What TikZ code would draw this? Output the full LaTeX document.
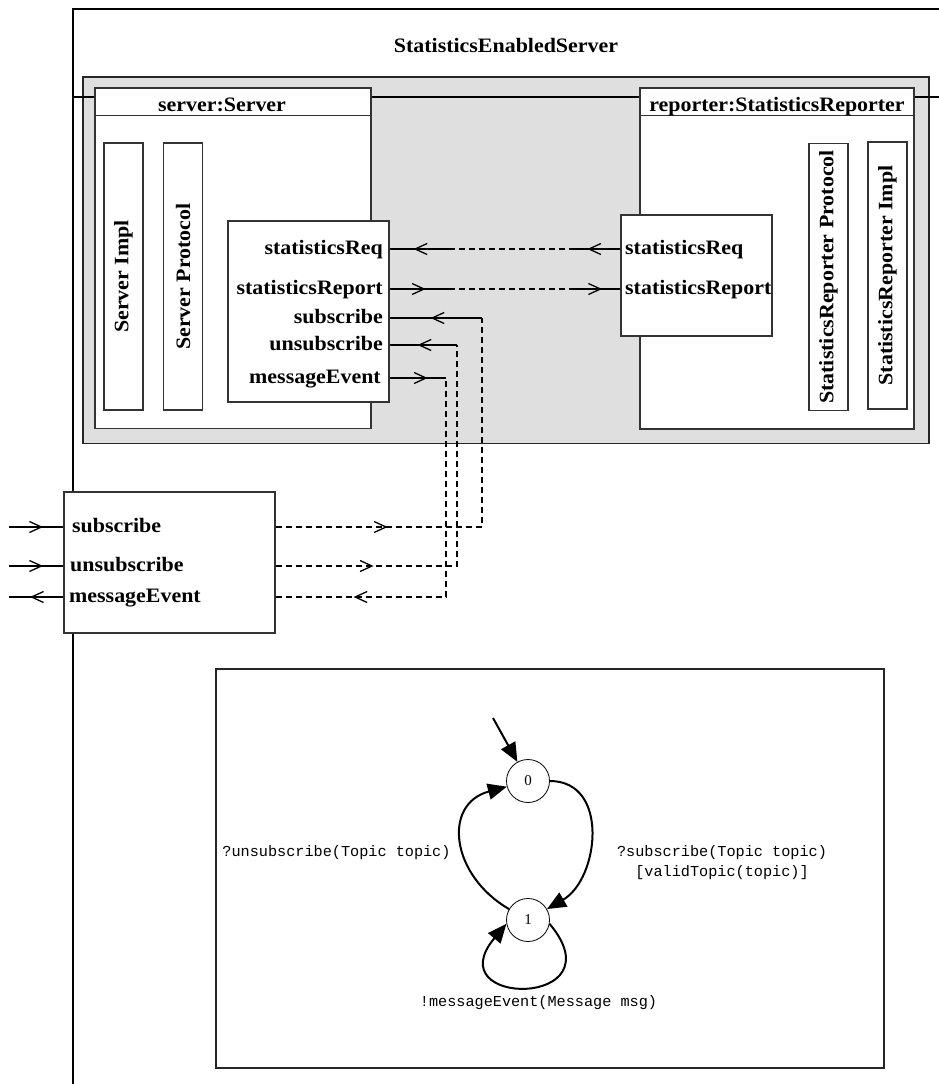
\documentclass[tikz,border=0pt]{standalone}
\usepackage{fontspec}
\setmainfont{Liberation Serif}
\newfontfamily\portfamily[FakeStretch=1.07]{Liberation Serif}
\newfontfamily\codefamily{Liberation Mono}
\usetikzlibrary{positioning}
\usetikzlibrary{arrows.meta}
\usetikzlibrary{decorations.markings}

\newcommand{\portfont}{\portfamily\bfseries\fontsize{20.5}{23}\selectfont}
\newcommand{\codefont}{\codefamily\fontsize{15.2}{20}\selectfont}

\begin{document}
\begin{tikzpicture}[x=1pt,y=1pt,
  >={Straight Barb[length=12pt,width=11pt]},
  box/.style={draw=black!80,line width=1.2pt,fill=white,inner sep=0pt},
  vbox/.style={box,rotate=90,minimum width=267pt,minimum height=39pt,font=\portfont},
  portlbl/.style={font=\portfont,inner sep=0pt,text height=14pt,text depth=4pt},
  wire/.style={line width=1.3pt},
  dashwire/.style={line width=1.3pt,dash pattern=on 6pt off 4pt},
  fwd/.style={postaction={decorate},decoration={markings,mark=at position #1 with {\arrow{>}}}},
  bwd/.style={postaction={decorate},decoration={markings,mark=at position #1 with {\arrowreversed{>}}}},
  state/.style={draw,circle,minimum size=43pt,inner sep=0pt,line width=0.8pt,font=\fontsize{15}{18}\selectfont},
  trans/.style={line width=2pt,-{Triangle[length=19pt,width=16pt]}},
  code/.style={font=\codefont,inner sep=0pt,align=center}]

\useasboundingbox (0,0) rectangle (939,-1084);

% outer frame
\draw[line width=1.5pt] (939,-9) -- (73,-9) -- (73,-1084);
\node[font=\portfont] (sysTitle) at (506,-45) {StatisticsEnabledServer};

\node[box,draw=black!85,line width=1.5pt,fill=gray!25,minimum width=846pt,minimum height=366.5pt] (encl) at (506,-260.25) {};
\draw[line width=1.2pt] (72,-97) -- (939,-97);

% server
\node[box,minimum width=276pt,minimum height=340.5pt] (srv) at (233,-258.25) {};
\draw[line width=1.2pt,draw=black!80] ([yshift=-28pt]srv.north west) -- ([yshift=-28pt]srv.north east);
\node[font=\portfont,anchor=base] (srvTitle) at (222,-111) {server:Server};
\node[vbox] (srvImpl) at (123.5,-276.5) {Server Impl};
\node[vbox] (srvProto) at (183,-276.5) {Server Protocol};

\node[box,minimum width=161pt,minimum height=181pt] (srvPorts) at (308.5,-311.5) {};
\node[portlbl,anchor=east] (sReq) at (383,-249) {statisticsReq};
\node[portlbl,anchor=east] (sRep) at (383,-289) {statisticsReport};
\node[portlbl,anchor=east] (sSub) at (383,-318) {subscribe};
\node[portlbl,anchor=east] (sUnsub) at (383,-345) {unsubscribe};
\node[portlbl,anchor=east] (sMsg) at (381,-378) {messageEvent};

% reporter
\node[box,minimum width=274pt,minimum height=341pt] (rep) at (777,-258.5) {};
\draw[line width=1.2pt,draw=black!80] ([yshift=-28pt]rep.north west) -- ([yshift=-28pt]rep.north east);
\node[font=\portfont,anchor=base] (repTitle) at (777,-111) {reporter:StatisticsReporter};
\node[vbox] (repProto) at (828.5,-277) {StatisticsReporter Protocol};
\node[vbox] (repImpl) at (887.5,-275.5) {StatisticsReporter Impl};

\node[box,minimum width=151pt,minimum height=121pt] (rPorts) at (696.5,-275.5) {};
\node[portlbl,anchor=west] (rReq) at (625,-249) {statisticsReq};
\node[portlbl,anchor=west] (rRep) at (625,-289) {statisticsReport};

% environment ports
\node[box,minimum width=211pt,minimum height=141pt] (envPorts) at (169.5,-562.5) {};
\node[portlbl,anchor=west] (eSub) at (72,-527) {subscribe};
\node[portlbl,anchor=west] (eUnsub) at (70,-566) {unsubscribe};
\node[portlbl,anchor=west] (eMsg) at (69,-597) {messageEvent};

% statisticsReq
\coordinate (reqL) at (449,-249);
\coordinate (reqR) at (570,-249);
\draw[wire,bwd=24pt] (srvPorts.east |- sReq) -- (reqL);
\draw[dashwire] (reqL) -- (reqR);
\draw[wire,fwd=33pt] (rPorts.west |- rReq) -- (reqR);

% statisticsReport
\coordinate (repL) at (449,-289);
\coordinate (repR) at (570,-289);
\draw[wire,fwd=36pt] (srvPorts.east |- sRep) -- (repL);
\draw[dashwire] (repL) -- (repR);
\draw[wire,fwd=32pt] (repR) -- (rPorts.west |- rRep);

% subscribe
\coordinate (subTurn) at (482,-318);
\draw[wire,bwd=41pt] (srvPorts.east |- sSub) -- (subTurn);
\draw[dashwire,fwd=112pt] (envPorts.east |- eSub) -| (subTurn);

% unsubscribe
\coordinate (unsubTurn) at (457,-345);
\draw[wire,bwd=28pt] (srvPorts.east |- sUnsub) -- (unsubTurn);
\draw[dashwire,fwd=98pt] (envPorts.east |- eUnsub) -| (unsubTurn);

% messageEvent
\coordinate (msgTurn) at (446,-378);
\draw[wire,fwd=38pt] (srvPorts.east |- sMsg) -- (msgTurn);
\draw[dashwire,bwd=78pt] (envPorts.east |- eMsg) -| (msgTurn);

% outside
\coordinate (inSub) at (9,-527);
\coordinate (inUnsub) at (9,-566);
\coordinate (outMsg) at (9,-597);
\draw[wire,fwd=34pt] (inSub) -- (envPorts.west |- eSub);
\draw[wire,fwd=34pt] (inUnsub) -- (envPorts.west |- eUnsub);
\draw[wire,bwd=21pt] (outMsg) -- (envPorts.west |- eMsg);

% protocol state machine
\node[box,draw=black!85,line width=1.5pt,minimum width=668pt,minimum height=399pt] (fsm) at (550,-868.5) {};
\node[state] (s0) at (528,-781) {0};
\node[state] (s1) at (528,-920) {1};
\coordinate (init) at (493,-718);
\draw[trans] (init) -- (s0);
\draw[trans] (s0) to[out=0,in=30,looseness=1.2] (s1);
\draw[trans] (s1) to[out=150,in=195,looseness=1.4] (s0);
\draw[trans] (s1.-10) to[out=-50,in=230,distance=110pt] (s1.190);

\node[code] (unsubLbl) at (336.5,-853) {?unsubscribe(Topic topic)};
\node[code] (subLbl) at (722,-863) {?subscribe(Topic topic)\\{}[validTopic(topic)]};
\node[code] (msgLbl) at (538.5,-1003) {!messageEvent(Message msg)};

\end{tikzpicture}
\end{document}
